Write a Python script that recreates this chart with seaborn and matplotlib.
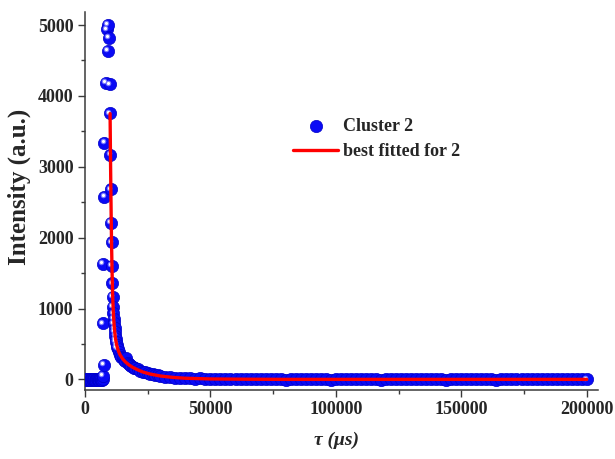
import matplotlib
matplotlib.use("Agg")
import matplotlib.pyplot as plt
import matplotlib.transforms as mtransforms
from matplotlib.ticker import MultipleLocator
import pandas as pd
import seaborn as sns

# ---- data -------------------------------------------------------------
# baseline before the excitation pulse
base_t = [0, 250, 500, 750, 1000, 1250, 1500, 1750, 2000, 2250, 2500, 2750,
          3000, 3250, 3500, 3750, 4000, 4250, 4500, 4750, 5000, 5250, 5500,
          5750, 6000, 6250, 6500, 6750, 7000]
base_I = [5, -8, 10, -5, 8, -10, 4, 12, -6, 7, -9, 11, -4, 9, 0,
          6, -7, 10, -3, 8, -11, 5, 12, -6, 3, -9, 10, -4, 2]

# rising edge and peak
peak_t = [7050, 7050, 7050, 7570, 7700, 7700, 8370, 8650, 9050, 9290, 9570, 9900]
peak_I = [51, 790, 1628, 202, 2577, 3339, 4186, 4939, 5000, 4637, 4821, 4163]

# early decay
early_t = [10000, 10150, 10300, 10450, 10600, 10750, 10900, 11050]
early_I = [3754, 3165, 2681, 2210, 1933, 1603, 1355, 1166]

# knee of the decay
mid_t = [11200, 11350, 11500, 11650, 11800, 11950, 12100, 12250, 12400, 12600,
         12800, 13000, 13500, 14000, 14500, 15000, 15500, 16000, 16500, 17000,
         17500, 18000, 18500, 19000, 19500, 20000, 21000, 22000, 23000, 24000,
         25000, 26000, 27000, 28000, 29000]
mid_I = [1020, 930, 850, 790, 720, 665, 610, 565, 525, 485,
         450, 425, 390, 350, 320, 300, 280, 262, 300, 228,
         210, 198, 188, 175, 165, 155, 140, 125, 110, 98,
         88, 78, 70, 62, 55]

# long tail, sampled every 2 ms
tail_t = list(range(30000, 200001, 2000))
tail_I = [50, 38, 35, 24, 26, 15, 19, 10, 14, 6,
          9, 4, 7, 2, 5, 1, 4, 0, 3, -1,
          2, 0, 3, -1, 1, -2, 2, 0, 1, -1,
          2, -1, 0, 1, -2, 1, 0, 2, -1, 0,
          1, -1, 2, 0, -2, 1, 0, -1, 2, 0,
          -1, 1, 0, 2, -1, 0, 1, -2, 1, 0,
          2, -1, 0, 1, -1, 2, 0, -2, 1, 0,
          -1, 1, 2, 0, -1, 0, 1, -1, 2, 0,
          1, -1, 0, 2, 0, 1]

# best-fit decay curve
fit_t = [10000, 10150, 10300, 10450, 10600, 10750, 10900, 11050, 11200, 11400,
         11600, 11800, 12000, 12300, 12600, 13000, 13500, 14000, 15000, 16000,
         17500, 19000, 21000, 23000, 26000, 30000, 35000, 40000, 50000, 65000,
         80000, 200000]
fit_I = [3750, 3180, 2700, 2260, 1900, 1600, 1360, 1170, 1020, 880,
         770, 690, 620, 545, 490, 435, 385, 345, 290, 250,
         205, 170, 135, 105, 75, 48, 28, 16, 6, 2,
         0, 0]

# ---- style ------------------------------------------------------------
sns.set_style("ticks")
plt.rcParams["font.family"] = ["Liberation Serif", "DejaVu Serif"]
plt.rcParams["font.weight"] = "bold"

fig = plt.figure(figsize=(6.15, 4.59), dpi=100)
ax = fig.add_axes([0.1382, 0.1503, 0.8342, 0.8242])

points = pd.DataFrame({"t": base_t + peak_t + early_t + mid_t + tail_t,
                       "I": base_I + peak_I + early_I + mid_I + tail_I})
shine = pd.DataFrame({"t": peak_t + early_t + mid_t[:12] + tail_t[-1:],
                      "I": peak_I + early_I + mid_I[:12] + tail_I[-1:]})

ball = "#0a0af5"
sns.scatterplot(data=points, x="t", y="I", s=78, color=ball, edgecolor="#0000c8",
                linewidth=0.5, ax=ax, label="Cluster 2", zorder=3)

# glossy highlight on the balls
shift = mtransforms.ScaledTranslation(-0.018, 0.018, fig.dpi_scale_trans)
sns.scatterplot(data=shine, x="t", y="I", s=16, color="#7a7aff", linewidth=0,
                ax=ax, zorder=4, legend=False)
ax.collections[-1].set_offset_transform(ax.transData + shift)
sns.scatterplot(data=shine, x="t", y="I", s=5, color="white", linewidth=0,
                ax=ax, zorder=5, legend=False)
ax.collections[-1].set_offset_transform(ax.transData + shift)

sns.lineplot(x=fit_t, y=fit_I, sort=False, estimator=None, color="#ff0000",
             linewidth=2.4, ax=ax, label="best fitted for 2", zorder=6)

# ---- axes -------------------------------------------------------------
ax.set_xlim(0, 204500)
ax.set_ylim(-150, 5188)
ax.xaxis.set_major_locator(MultipleLocator(50000))
ax.xaxis.set_minor_locator(MultipleLocator(25000))
ax.yaxis.set_major_locator(MultipleLocator(1000))
ax.yaxis.set_minor_locator(MultipleLocator(500))
ax.ticklabel_format(style="plain", useOffset=False)

for side in ("top", "right"):
    ax.spines[side].set_visible(False)
for side in ("left", "bottom"):
    ax.spines[side].set_color("#3a3a3a")
    ax.spines[side].set_linewidth(1.1)

ax.tick_params(which="major", direction="out", length=5.2, width=1.0,
               color="#3a3a3a", pad=3.0, labelsize=13)
ax.tick_params(which="minor", direction="out", length=2.8, width=1.0,
               color="#3a3a3a")
for lab in ax.get_xticklabels() + ax.get_yticklabels():
    lab.set_fontweight("bold")

ax.set_ylabel("Intensity (a.u.)", fontsize=18, fontweight="bold")
ax.yaxis.set_label_coords(-0.105, 0.537)
ax.set_xlabel("τ (μs)", fontsize=14, fontweight="bold", fontstyle="italic")
ax.xaxis.set_label_coords(0.491, -0.111)

ax.legend(loc="upper left", bbox_to_anchor=(293 / 615, 1 - 118 / 459),
          bbox_transform=fig.transFigure, frameon=False, borderpad=0,
          borderaxespad=0, handlelength=2.5, handletextpad=0.25,
          labelspacing=0.45, scatterpoints=1,
          prop={"weight": "bold", "size": 13})

fig.savefig("out.png", dpi=100)
